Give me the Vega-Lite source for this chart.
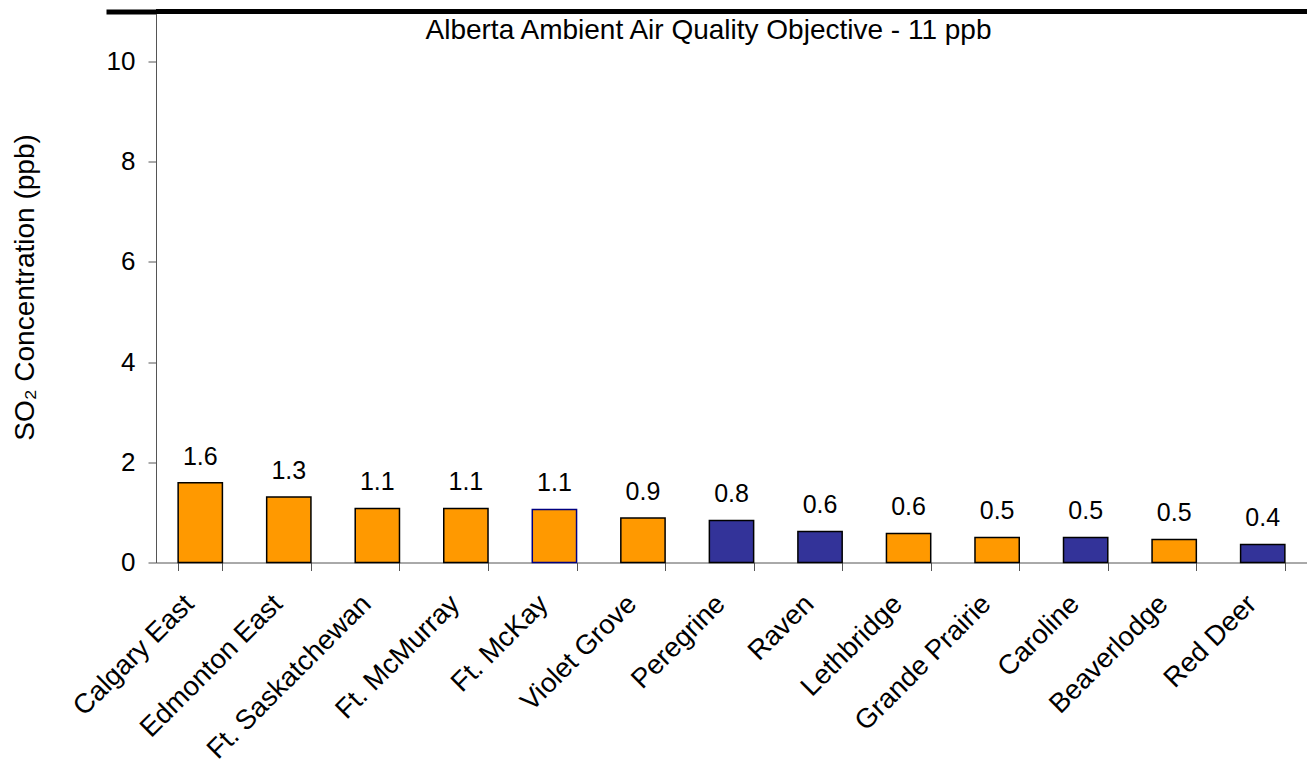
{
  "$schema": "https://vega.github.io/schema/vega-lite/v6.json",
  "width": 1151,
  "height": 551,
  "autosize": {"type": "none"},
  "padding": {"left": 156, "top": 11.5, "right": 0, "bottom": 198.5},
  "config": {"view": {"stroke": null}, "font": "Liberation Sans", "background": "white"},
  "layer": [
    {
      "data": {"values": [
        {"station": "Calgary East", "so2": 1.59, "group": "orange"},
        {"station": "Edmonton East", "so2": 1.31, "group": "orange"},
        {"station": "Ft. Saskatchewan", "so2": 1.08, "group": "orange"},
        {"station": "Ft. McMurray", "so2": 1.08, "group": "orange"},
        {"station": "Ft. McKay", "so2": 1.06, "group": "orange"},
        {"station": "Violet Grove", "so2": 0.89, "group": "orange"},
        {"station": "Peregrine", "so2": 0.84, "group": "blue"},
        {"station": "Raven", "so2": 0.62, "group": "blue"},
        {"station": "Lethbridge", "so2": 0.58, "group": "orange"},
        {"station": "Grande Prairie", "so2": 0.5, "group": "orange"},
        {"station": "Caroline", "so2": 0.5, "group": "blue"},
        {"station": "Beaverlodge", "so2": 0.46, "group": "orange"},
        {"station": "Red Deer", "so2": 0.36, "group": "blue"}
      ]},
      "encoding": {
        "x": {
          "field": "station", "type": "nominal", "sort": null,
          "scale": {"paddingInner": 0.5, "paddingOuter": 0.25},
          "axis": {
            "title": null, "labelAngle": -45, "labelAlign": "right", "labelBaseline": "middle",
            "labelFontSize": 27.5, "labelColor": "black", "labelPadding": 29, "labelOffset": -11,
            "labelLimit": 400,
            "tickBand": "extent", "tickSize": 8, "tickColor": "#555555",
            "domainColor": "#555555", "grid": false
          }
        },
        "y": {
          "field": "so2", "type": "quantitative",
          "scale": {"domain": [0, 11], "nice": false},
          "axis": {
            "title": "SO₂ Concentration (ppb)", "titleFontSize": 28, "titleFontWeight": "normal",
            "titleColor": "black", "titlePadding": 64,
            "values": [0, 2, 4, 6, 8, 10, 11],
            "labelExpr": "datum.value == 11 ? '' : datum.label",
            "labelFontSize": 26, "labelColor": "black", "labelPadding": 13,
            "tickSize": {"condition": {"test": "datum.value == 11", "value": 50}, "value": 8},
            "tickWidth": {"condition": {"test": "datum.value == 11", "value": 5}, "value": 1},
            "tickColor": {"condition": {"test": "datum.value == 11", "value": "black"}, "value": "#555555"},
            "domainColor": "#555555", "grid": false
          }
        }
      },
      "layer": [
        {
          "mark": {"type": "bar", "strokeWidth": 1.5},
          "encoding": {
            "color": {"field": "group", "type": "nominal", "legend": null,
              "scale": {"domain": ["orange", "blue"], "range": ["#FF9900", "#333399"]}},
            "stroke": {"condition": {"test": "datum.station === 'Ft. McKay'", "value": "#000080"}, "value": "#000000"}
          }
        },
        {
          "mark": {"type": "text", "baseline": "alphabetic", "dy": -18, "fontSize": 25, "color": "black"},
          "encoding": {
            "text": {"field": "so2", "type": "quantitative", "format": ".1f"}
          }
        }
      ]
    },
    {
      "data": {"values": [{"level": 11}]},
      "mark": {"type": "rule", "strokeWidth": 5, "color": "black"},
      "encoding": {"y": {"field": "level", "type": "quantitative", "axis": {"title": "SO₂ Concentration (ppb)"}}}
    },
    {
      "data": {"values": [{"label": "Alberta Ambient Air Quality Objective - 11 ppb", "pos": 10.45}]},
      "mark": {"type": "text", "fontSize": 28, "dx": -23, "baseline": "alphabetic", "color": "black"},
      "encoding": {
        "y": {"field": "pos", "type": "quantitative", "axis": {"title": "SO₂ Concentration (ppb)"}},
        "text": {"field": "label"}
      }
    }
  ]
}
